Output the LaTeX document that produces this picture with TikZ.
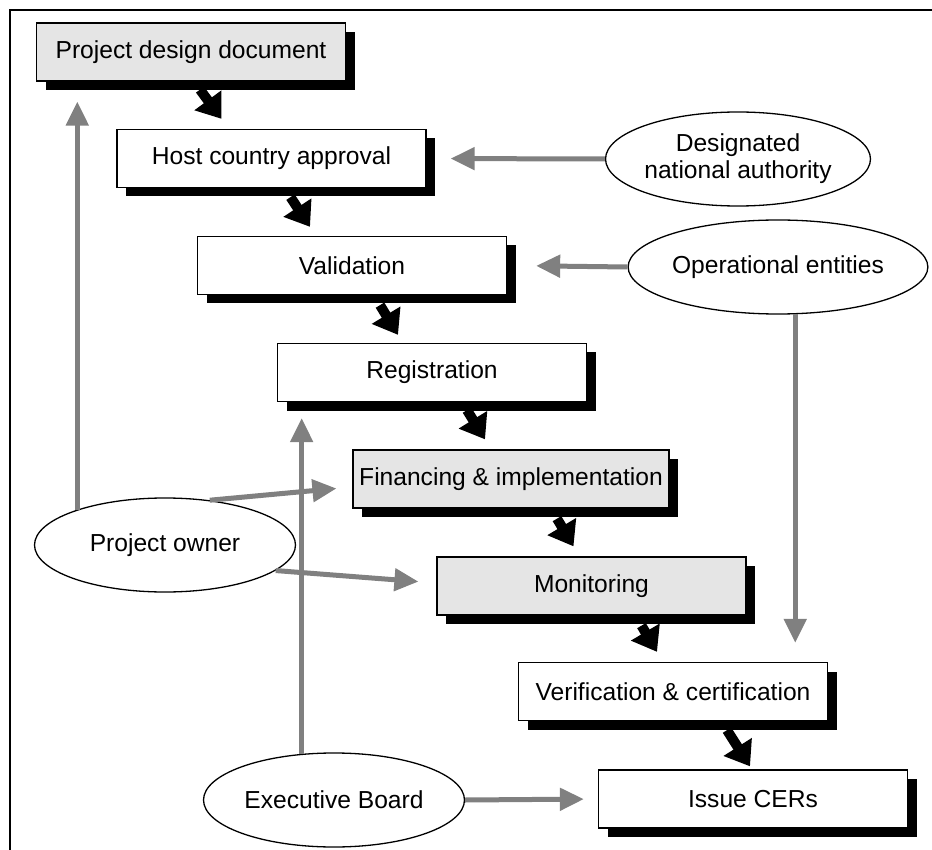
\documentclass[tikz,border=0pt]{standalone}
\usepackage{fontspec}
\setmainfont{Liberation Sans}
\usepackage{tikz}
\usetikzlibrary{positioning,shapes.geometric,arrows.meta,shadows}
\usepackage{xcolor}

\begin{document}
\begin{tikzpicture}[x=1pt,y=-1pt,
    every node/.style={font=\fontsize{24.6}{27}\selectfont},
    stage/.style={draw, line width=1.3pt, fill=white, minimum width=309pt, minimum height=58pt,
        inner sep=0pt, drop shadow={shadow xshift=9pt, shadow yshift=-9pt, fill=black, opacity=1}},
    stagegray/.style={stage, fill=gray!20},
    actor/.style={draw, ellipse, line width=1.3pt, minimum width=261pt, minimum height=94pt,
        inner sep=0pt, align=center},
    flow/.style={line width=10pt, -{Triangle[width=32pt,length=23pt]}},
    role/.style={draw=gray, line width=5pt, -{Triangle[width=22pt,length=24pt]}}]
    \useasboundingbox (0,0) rectangle (932,850);
    \draw[line width=2pt] (10,850) -- (10,10) -- (932,10);

    % steps
    \node[stagegray] (design) at (191,52) {Project design document};
    \node[stage] (host) at (271.5,158.5) {Host country approval};
    \node[stage] (valid) at (352,265.5) {Validation};
    \node[stage] (regist) at (432,372.5) {Registration};
    \node[stagegray, minimum width=316pt] (finance) at (511,479) {Financing \& implementation};
    \node[stagegray] (monitor) at (591.5,586) {Monitoring};
    \node[stage] (verify) at (673,691.5) {Verification \& certification};
    \node[stage] (issue) at (753,799) {Issue CERs};

    % actors
    \node[actor] (dna) at (738,159) {Designated\\national authority};
    \node[actor] (entities) at (778,267) {Operational entities};
    \node[actor] (owner) at (165,545) {Project owner};
    \node[actor] (board) at (334,800) {Executive Board};

    \draw[flow] ([xshift=9pt,yshift=-8pt]design.south) -- ([xshift=-50pt,yshift=10pt]host.north);
    \draw[flow] ([xshift=19pt,yshift=-9pt]host.south) -- ([xshift=-42pt,yshift=9pt]valid.north);
    \draw[flow] ([xshift=28pt,yshift=-10pt]valid.south) -- ([xshift=-34pt,yshift=8pt]regist.north);
    \draw[flow] ([xshift=35pt,yshift=-8pt]regist.south) -- ([xshift=-26pt,yshift=10pt]finance.north);
    \draw[flow] ([xshift=46pt,yshift=-10pt]finance.south) -- ([xshift=-18pt,yshift=10pt]monitor.north);
    \draw[flow] ([xshift=50pt,yshift=-10pt]monitor.south) -- ([xshift=-16pt,yshift=10pt]verify.north);
    \draw[flow] ([xshift=54pt,yshift=-9pt]verify.south) -- ([xshift=-3pt,yshift=3pt]issue.north);

    \draw[role, shorten >=24pt] (dna.west) -- (host.east);
    \draw[role, shorten >=29pt] (entities.west) -- (valid.east);
    \draw[role, shorten >=19pt] (entities.-70) -- (entities.-70 |- verify.north);
    \draw[role, shorten >=20pt] (owner.158) -- (owner.158 |- design.south);
    \draw[role, shorten >=16pt] (owner.45) -- ([yshift=-8pt]finance.west);
    \draw[role, shorten >=18pt] (owner.-13) -- ([yshift=3pt]monitor.west);
    \draw[role, shorten >=16pt] (board.125) -- (board.125 |- regist.south);
    \draw[role, shorten >=14pt] (board.east) -- (issue.west);
\end{tikzpicture}
\end{document}
